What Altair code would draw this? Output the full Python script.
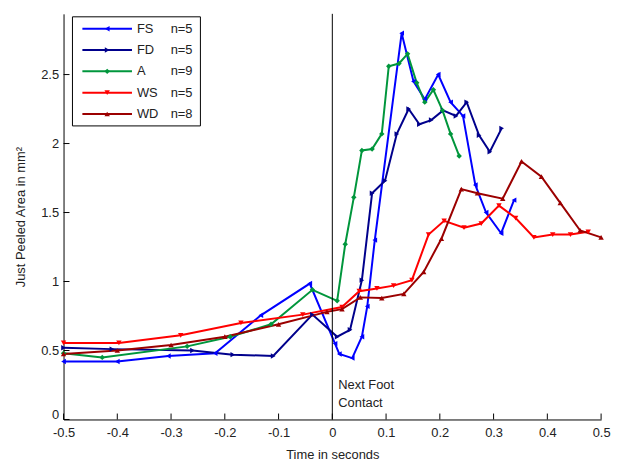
import altair as alt
import pandas as pd

# ---- data ----
names = ["FS", "FD", "A", "WS", "WD"]
ns = [5, 5, 9, 5, 8]
colors = ["#0000FF", "#00008C", "#00963C", "#FF0000", "#9B0000"]
shapes = ["triangle-left", "triangle-right", "diamond", "triangle-down", "triangle-up"]

fs_t = [-0.5, -0.4, -0.305, -0.218, -0.133, -0.042, 0.005, 0.013, 0.037, 0.055, 0.065, 0.079, 0.129,
        0.151, 0.172, 0.197, 0.22, 0.243, 0.266, 0.286, 0.314, 0.338]
fs_a = [0.42, 0.42, 0.46, 0.48, 0.755, 0.985, 0.55, 0.475, 0.445, 0.60, 0.82, 1.30, 2.80,
        2.45, 2.32, 2.50, 2.30, 2.20, 1.70, 1.50, 1.35, 1.59]

fd_t = [-0.5, -0.41, -0.26, -0.185, -0.11, -0.037, 0.009, 0.033, 0.055, 0.074, 0.098, 0.12,
        0.142, 0.162, 0.184, 0.206, 0.23, 0.25, 0.273, 0.293, 0.315]
fd_a = [0.52, 0.51, 0.50, 0.47, 0.46, 0.76, 0.60, 0.65, 1.01, 1.64, 1.73, 2.07,
        2.25, 2.14, 2.17, 2.24, 2.20, 2.30, 2.06, 1.94, 2.11]

a_t = [-0.5, -0.428, -0.27, -0.19, -0.114, -0.037, 0.009, 0.024, 0.04, 0.055, 0.074, 0.092,
       0.105, 0.124, 0.14, 0.157, 0.172, 0.188, 0.205, 0.22, 0.236]
a_a = [0.48, 0.45, 0.53, 0.60, 0.69, 0.94, 0.86, 1.27, 1.61, 1.95, 1.96, 2.07,
       2.56, 2.58, 2.65, 2.44, 2.30, 2.39, 2.24, 2.07, 1.91]

ws_t = [-0.5, -0.397, -0.282, -0.17, -0.055, 0.018, 0.05, 0.083, 0.114, 0.148, 0.179, 0.208,
        0.245, 0.277, 0.31, 0.341, 0.375, 0.41, 0.443, 0.476]
ws_a = [0.555, 0.555, 0.61, 0.70, 0.76, 0.815, 0.93, 0.95, 0.97, 1.01, 1.34, 1.44,
        1.39, 1.42, 1.55, 1.46, 1.32, 1.34, 1.34, 1.36]

wd_t = [-0.5, -0.4, -0.3, -0.2, -0.1, -0.01, 0.018, 0.052, 0.092, 0.133, 0.17, 0.203,
        0.24, 0.27, 0.317, 0.352, 0.389, 0.424, 0.461, 0.5]
wd_a = [0.475, 0.50, 0.54, 0.60, 0.69, 0.78, 0.80, 0.885, 0.88, 0.91, 1.07, 1.31,
        1.67, 1.64, 1.60, 1.87, 1.76, 1.57, 1.37, 1.32]

x_ticks = [-0.5, -0.4, -0.3, -0.2, -0.1, 0.0, 0.1, 0.2, 0.3, 0.4, 0.5]
y_ticks = [0, 0.5, 1, 1.5, 2, 2.5]
event_t = [0.0]
event_label = ["Next Foot", "Contact"]

# ---- build tables ----
series = {"FS": (fs_t, fs_a), "FD": (fd_t, fd_a), "A": (a_t, a_a), "WS": (ws_t, ws_a), "WD": (wd_t, wd_a)}
rows = []
for name in names:
    ts, aa = series[name]
    for i, (t, a) in enumerate(zip(ts, aa)):
        rows.append({"series": name, "t": t, "area": a, "order": i})
df = pd.DataFrame(rows)

leg = pd.DataFrame({"series": names, "nlab": ["n=%d" % n for n in ns], "idx": list(range(len(names)))})
xt = pd.DataFrame({"t": x_ticks})
yt = pd.DataFrame({"area": y_ticks})
ev = pd.DataFrame({"t": event_t})

W, H = 542, 409
YMAX = 2.94
FONT = "Liberation Sans"
TXT = "#222222"

xsc = alt.Scale(domain=[-0.5, 0.5], nice=False, zero=False)
ysc = alt.Scale(domain=[0, YMAX], nice=False)
color = alt.Color("series:N", scale=alt.Scale(domain=names, range=colors), legend=None)
shape = alt.Shape("series:N", scale=alt.Scale(domain=names, range=shapes), legend=None)

xaxis = alt.Axis(values=x_ticks, ticks=False, grid=False, title="Time in seconds",
                 labelExpr="datum.value == 0 ? '0' : (datum.value < 0 ? '-' + format(-datum.value, '.1f') : format(datum.value, '.1f'))",
                 labelPadding=7, titlePadding=9, labelFlush=False)
yaxis = alt.Axis(values=y_ticks, ticks=False, grid=False, title="Just Peeled Area in mm²",
                 labelExpr="format(datum.value, '~g')", labelPadding=5, titlePadding=13,
                 labelFlush=True, labelFlushOffset=2)

X = alt.X("t:Q", scale=xsc, axis=xaxis)
Y = alt.Y("area:Q", scale=ysc, axis=yaxis)

lines = alt.Chart(df).mark_line(strokeWidth=2).encode(
    x=X, y=Y, color=color, detail="series:N", order="order:Q")

points = alt.Chart(df).mark_point(filled=True, size=30, opacity=1).encode(
    x=X, y=Y, color=color, shape=shape)

xtick_layer = alt.Chart(xt).mark_rule(color="black", strokeWidth=1).encode(
    x=X, y=alt.value(H), y2=alt.value(H - 6))
ytick_layer = alt.Chart(yt).mark_rule(color="black", strokeWidth=1).encode(
    y=Y, x=alt.value(0), x2=alt.value(6))

vline = alt.Chart(ev).mark_rule(color="black", strokeWidth=1).encode(
    x=X, y=alt.value(0), y2=alt.value(H))

vtext = alt.Chart(ev).mark_text(text=event_label, align="left", baseline="top", dx=6,
                                fontSize=13, lineHeight=18, font=FONT, color=TXT).encode(
    x=X, y=alt.datum(0.295))

# ---- custom legend ----
ROW0, ROWSTEP = 15, 21.5
leg_base = alt.Chart(leg).transform_calculate(
    area=f"{YMAX} - ({ROW0} + datum.idx * {ROWSTEP}) * {YMAX} / {H}")

box = alt.Chart(ev).mark_rect(fill="white", stroke="black", strokeWidth=1).encode(
    x=alt.value(9), x2=alt.value(138), y=alt.value(3), y2=alt.value(113))
leg_lines = leg_base.mark_rule(strokeWidth=2).encode(
    x=alt.value(19), x2=alt.value(69), y=Y, color=color)
leg_pts = leg_base.mark_point(filled=True, size=30, opacity=1).encode(
    x=alt.value(44), y=Y, color=color, shape=shape)
leg_names = leg_base.mark_text(align="left", baseline="middle", fontSize=13, font=FONT, color=TXT).encode(
    x=alt.value(74), y=Y, text="series:N")
leg_n = leg_base.mark_text(align="left", baseline="middle", fontSize=13, font=FONT, color=TXT).encode(
    x=alt.value(108), y=Y, text="nlab:N")

chart = alt.layer(
    lines, points, vline, xtick_layer, ytick_layer, vtext,
    box, leg_lines, leg_pts, leg_names, leg_n
).properties(
    width=W, height=H,
    autosize=alt.AutoSizeParams(type="none"),
    padding={"left": 56, "top": 4, "right": 12, "bottom": 44},
).configure_view(stroke=None).configure_axis(
    domainColor="black", domainWidth=1, labelColor=TXT, titleColor=TXT,
    labelFont=FONT, titleFont=FONT, labelFontSize=13, titleFontSize=13,
    titleFontWeight="normal"
)

chart.save("out.html", embed_options={"renderer": "svg", "actions": False})
